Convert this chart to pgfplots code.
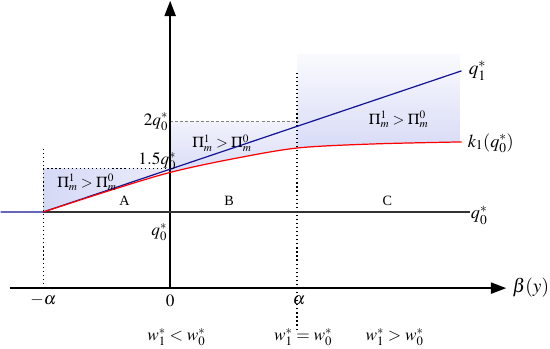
\documentclass[border=0pt]{standalone}
\usepackage{mathptmx}
\usepackage{fontspec}
\setmainfont{Liberation Serif}
\usepackage{pgfplots}
\pgfplotsset{compat=1.18}
\usetikzlibrary{arrows.meta}
\definecolor{navy}{RGB}{20,20,150}
\definecolor{lav}{RGB}{214,217,246}
\begin{document}
\begin{tikzpicture}
\begin{axis}[
  x=1pt, y=1pt,
  xmin=-172, xmax=378, ymin=-61, ymax=286,
  hide axis, clip=false,
]
% shaded regions
\addplot[draw=none, left color=lav, right color=lav!50] coordinates {(-125,75)(0,117)(0,118)(-125,118)} -- cycle;
\addplot[draw=none, fill=red!6] coordinates {(-125,75)(0,117)(0,115)(-60,96)} -- cycle;
\addplot[draw=none, top color=lav!35, bottom color=lav!90] coordinates {(0,164)(125,164)(125,138)(60,127)(0,115)} -- cycle;
\addplot[draw=none, top color=lav!12, bottom color=lav!95] coordinates {(125,231)(286,231)(286,144)(200,142)(125,138)} -- cycle;

% guide lines
\addplot[black, line width=1.2pt, dash pattern=on 1.2pt off 2.8pt] coordinates {(-125,0)(-125,138)};
\addplot[black, line width=1.2pt, dash pattern=on 1.2pt off 2.8pt] coordinates {(125,-41)(125,213)};
\addplot[black, line width=1.2pt, dash pattern=on 1.2pt off 2.8pt] coordinates {(-125,118)(0,118)};
\addplot[gray, line width=0.9pt, dash pattern=on 3pt off 2pt] coordinates {(0,164)(127,164)};

% axes
\addplot[black, line width=1.6pt, -{Triangle[length=15pt,width=11pt]}] coordinates {(-158,0)(331,0)};
\addplot[black, line width=1.6pt, -{Triangle[length=15pt,width=11pt]}] coordinates {(0,0)(0,283)};

% curves
\addplot[black!80, line width=1.3pt] coordinates {(-125,75)(295,75)};
\addplot[navy, line width=1.2pt] coordinates {(-167,75)(-125,75)(287,214)};
\addplot[red, line width=1.2pt, smooth] coordinates {(-125,75)(-60,96)(0,114)(60,127)(125,138)(200,142)(287,144)};

% labels
\node[anchor=east, inner sep=1pt] at (-1,164) {\fontsize{17}{19}\selectfont$2q_0^*$};
\node[anchor=east, inner sep=1pt] at (7,125) {\fontsize{17}{19}\selectfont$1.5q_0^*$};
\node[anchor=east, inner sep=1pt] at (-2,55) {\fontsize{17}{19}\selectfont$q_0^*$};
\node[anchor=west, inner sep=1pt] at (293,214) {\fontsize{19}{21}\selectfont$q_1^*$};
\node[anchor=west, inner sep=1pt] at (292,143) {\fontsize{18}{20}\selectfont$k_1(q_0^*)$};
\node[anchor=west, inner sep=1pt] at (295,72) {\fontsize{18}{20}\selectfont$q_0^*$};
\node[anchor=west, inner sep=1pt] at (336,0) {\fontsize{19}{21}\selectfont$\beta(y)$};
\node at (-125,-12) {\fontsize{17}{19}\selectfont$-\alpha$};
\node at (0,-13) {\fontsize{17}{19}\selectfont$0$};
\node at (127,-12) {\fontsize{17}{19}\selectfont$\alpha$};
\node at (6,-48) {\fontsize{17}{19}\selectfont$w_1^*<w_0^*$};
\node at (131,-48) {\fontsize{17}{19}\selectfont$w_1^*=w_0^*$};
\node at (221,-48) {\fontsize{17}{19}\selectfont$w_1^*>w_0^*$};
\node at (-45,86) {\fontsize{14}{16}\selectfont A};
\node at (58,86) {\fontsize{14}{16}\selectfont B};
\node at (214,86) {\fontsize{14}{16}\selectfont C};
\node at (-82,104) {\fontsize{15}{17}\selectfont$\Pi_m^1>\Pi_m^0$};
\node at (51,143) {\fontsize{15}{17}\selectfont$\Pi_m^1>\Pi_m^0$};
\node at (225,166) {\fontsize{15}{17}\selectfont$\Pi_m^1>\Pi_m^0$};
\end{axis}
\end{tikzpicture}
\end{document}
